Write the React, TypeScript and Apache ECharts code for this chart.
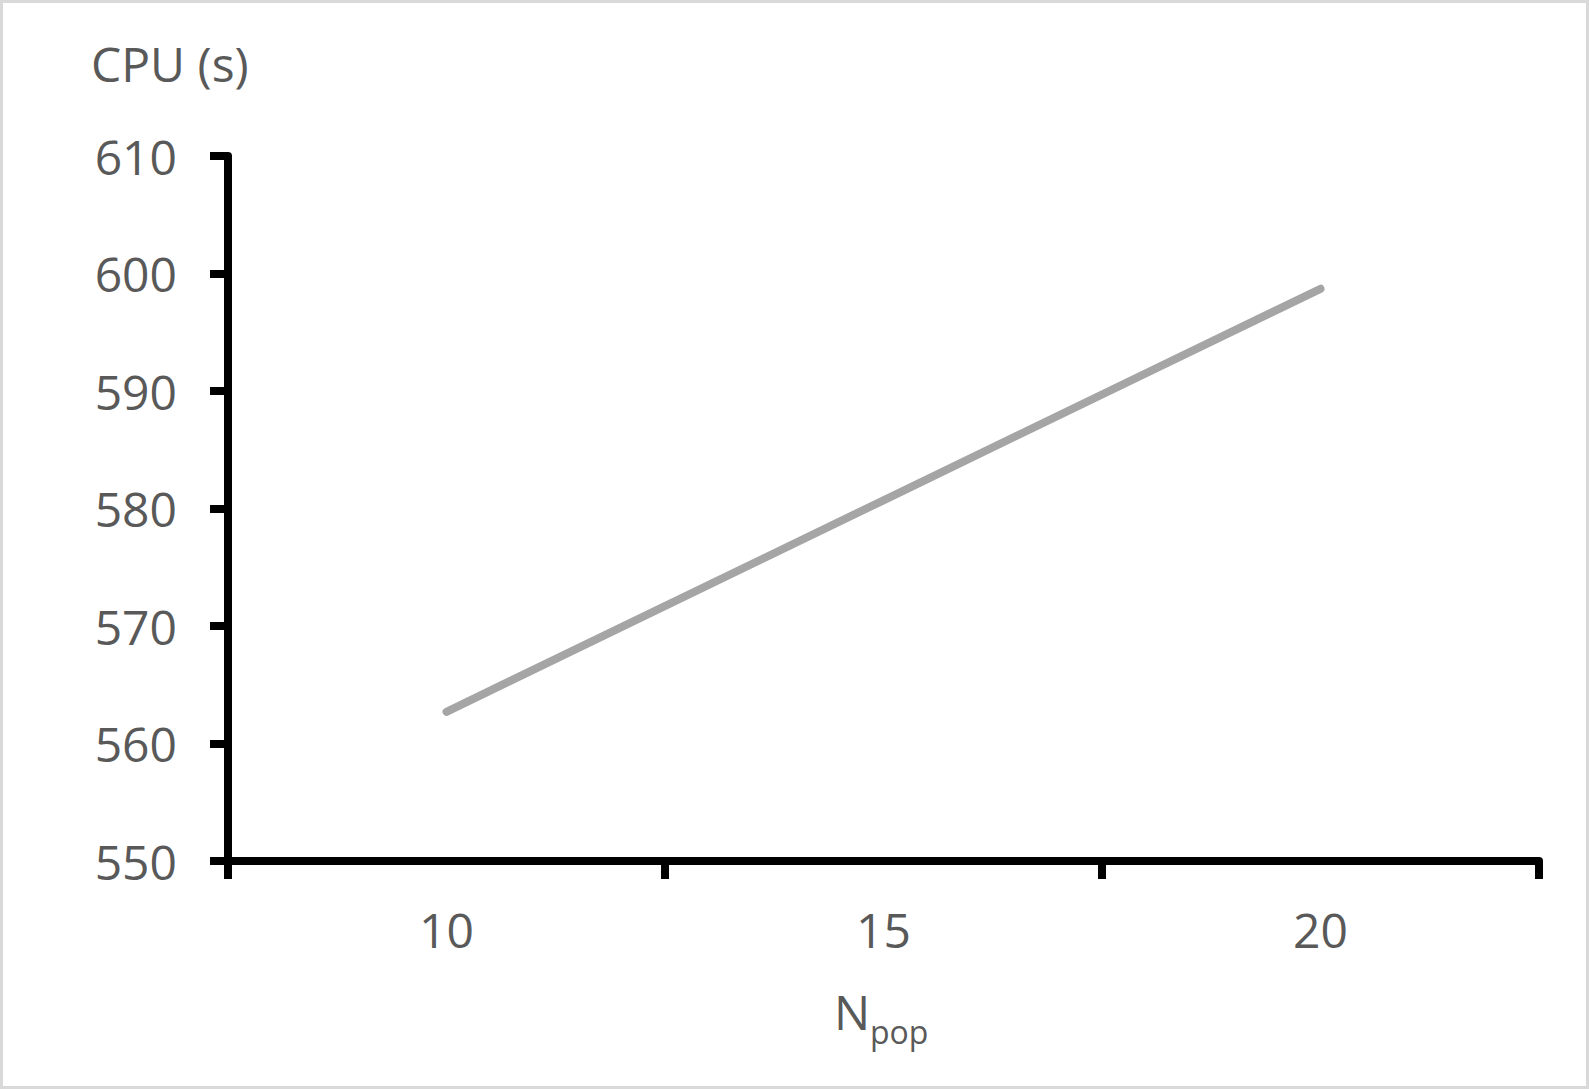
import React, { useEffect, useRef } from "react";
import * as echarts from "echarts";

const categories = ["10", "15", "20"];
const cpuValues = [562.7, 580.7, 598.7];
const yMin = 550;
const yMax = 610;
const yStep = 10;
const yAxisTitle = "CPU (s)";
const xAxisTitleMain = "N";
const xAxisTitleSub = "pop";

const FONT = "'Open Sans', 'Noto Sans', sans-serif";
const TEXT_COLOR = "#595959";

export default function App() {
  const ref = useRef<HTMLDivElement>(null);
  useEffect(() => {
    if (!ref.current) return;
    const chart = echarts.init(ref.current, null, { renderer: "svg" });
    chart.setOption({
      animation: false,
      backgroundColor: "#ffffff",
      grid: { left: 228, right: 50, top: 156, bottom: 228 },
      xAxis: {
        type: "category",
        data: categories,
        boundaryGap: true,
        axisLine: { show: true, lineStyle: { color: "#000000", width: 8 } },
        axisTick: { show: true, length: 18, lineStyle: { color: "#000000", width: 8 } },
        axisLabel: { color: TEXT_COLOR, fontSize: 48, fontFamily: FONT, margin: 44 },
        splitLine: { show: false },
      },
      yAxis: {
        type: "value",
        min: yMin,
        max: yMax,
        interval: yStep,
        axisLine: { show: true, lineStyle: { color: "#000000", width: 8 } },
        axisTick: { show: true, length: 18, lineStyle: { color: "#000000", width: 8 } },
        axisLabel: {
          color: TEXT_COLOR,
          fontSize: 48,
          fontFamily: FONT,
          margin: 51,
          padding: [0, 0, 5, 0],
        },
        splitLine: { show: false },
      },
      series: [
        {
          type: "line",
          data: cpuValues,
          symbol: "none",
          lineStyle: { color: "#a5a5a5", width: 8, cap: "round", join: "round" },
          itemStyle: { color: "#a5a5a5" },
        },
      ],
      graphic: [
        {
          type: "rect",
          shape: { x: 1.5, y: 1.5, width: 1586, height: 1086 },
          style: { fill: "none", stroke: "#d9d9d9", lineWidth: 3 },
          silent: true,
        },
        {
          type: "text",
          x: 91,
          y: 63,
          style: {
            text: yAxisTitle,
            fill: TEXT_COLOR,
            font: `48px ${FONT}`,
            verticalAlign: "middle",
            align: "left",
          },
        },
        {
          type: "text",
          x: 834,
          y: 1011,
          style: {
            text: xAxisTitleMain,
            fill: TEXT_COLOR,
            font: `48px ${FONT}`,
            verticalAlign: "middle",
            align: "left",
          },
        },
        {
          type: "text",
          x: 870,
          y: 1031,
          style: {
            text: xAxisTitleSub,
            fill: TEXT_COLOR,
            font: `32px ${FONT}`,
            verticalAlign: "middle",
            align: "left",
          },
        },
      ],
    });
    return () => chart.dispose();
  }, []);
  return (
    <div
      ref={ref}
      style={{ position: "absolute", left: 0, top: 0, width: 1589, height: 1089 }}
    />
  );
}
